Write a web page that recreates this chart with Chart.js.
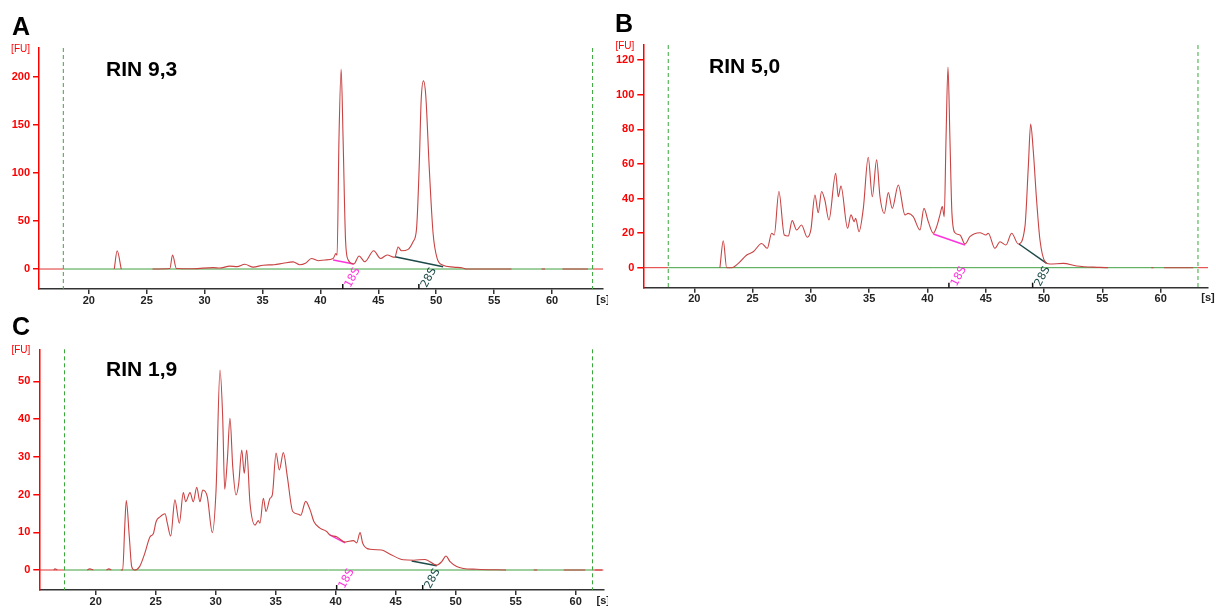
<!DOCTYPE html>
<html>
<head>
<meta charset="utf-8">
<script src="https://cdn.jsdelivr.net/npm/chart.js@4.4.0/dist/chart.umd.min.js"></script>
<style>
  body { margin: 0; background: #fff; width: 1216px; height: 610px; position: relative; overflow: hidden; }
  canvas { position: absolute; }
</style>
</head>
<body>
<canvas id="chartA" style="left:0px;top:0px;width:608px;height:306px" width="608" height="306"></canvas>
<canvas id="chartB" style="left:608px;top:0px;width:608px;height:306px" width="608" height="306"></canvas>
<canvas id="chartC" style="left:0px;top:306px;width:608px;height:304px" width="608" height="304"></canvas>
<script>
// ---- data (time in s, fluorescence in FU) ----
var timeA = [22.2,22.45,22.8,24,25.5,27.0,27.23,27.57,29.0,30.74,31.3,32.18,32.8,33.47,34.2,35.05,36.0,36.78,37.64,38.22,38.7,39.23,39.8,40.38,41.1,41.33,41.44,41.6,41.79,41.96,42.17,42.4,42.88,43.34,43.83,44.6,45.19,45.76,46.42,46.71,47.0,47.57,48.0,48.3,48.53,48.7,48.9,49.1,49.39,49.73,50.08,50.54,51.5,52.3,52.6,56.5,57,59.1,59.4,59.6,60.9,63.1];
var fuA   = [0,19,0,null,0,0.5,14.6,0.5,0.3,1.5,1,3,2.5,5,2,4,4.5,6,7.5,4.5,6,11,8.7,9.4,11,16,14.5,134,208,134,30,9.4,5.2,13.5,7.6,19,11,14.6,12.2,23,19,20.5,28.5,42,107,176,196,180,107,37,11,4.2,2,1,0,0,null,0,0,null,0,0];

var timeB = [22.2,22.49,22.78,23.2,23.78,24.5,25.06,25.78,26.26,26.64,26.86,27.26,27.72,28.06,28.4,28.78,29.2,29.69,30.0,30.35,30.63,30.92,31.2,31.55,32.13,32.35,32.58,33.15,33.44,33.72,33.84,34.13,34.5,34.92,35.27,35.64,35.93,36.3,36.64,36.98,37.5,38.07,38.35,38.78,39.36,39.7,40.07,40.5,40.79,41.07,41.27,41.44,41.59,41.76,41.93,42.1,42.36,42.79,43.22,43.64,44.5,45.02,45.21,45.79,46.22,46.73,47.22,47.79,48.36,48.65,48.85,49.07,49.36,49.65,50.08,50.5,51.65,52.8,54.8,55.5,56,59.2,59.4,59.6,60.3,62.8];
var fuB   = [0,15.6,0,0,2.5,7.3,9.2,14,11.2,19.9,18.9,44,18.9,18.3,27.2,21.8,24.7,17.6,21.8,42,31.8,44,39,27.6,54.6,41,47.2,22.8,30.5,26.6,28.6,20.8,34.3,63.8,41,62.3,41,31.4,43.4,34.3,47.8,30.5,31.4,29.5,21.8,34.3,26.6,19.9,23.7,30.5,35.3,29.5,73.8,116,73.8,31.4,20.2,18.9,13.7,17.9,20.2,18.9,19.9,11.2,15,13.1,19.9,13.7,23.7,58.4,83,68,39,16,3.5,2.1,2.5,1,0.2,0,null,0,0,null,0,0];

var timeC = [16.5,16.6,16.8,17.0,19.3,19.5,19.8,20,20.9,21.1,21.3,21.5,22.1,22.25,22.42,22.55,22.8,23.0,23.23,23.66,24.09,24.53,24.8,25.03,25.36,25.78,25.97,26.25,26.6,26.97,27.3,27.5,27.86,28.13,28.42,28.69,28.92,29.3,29.72,30.03,30.36,30.58,30.75,30.97,31.19,31.42,31.69,31.92,32.17,32.38,32.58,32.86,33.28,33.55,33.69,33.97,34.19,34.53,34.72,35.03,35.3,35.64,35.97,36.42,36.89,37.08,37.5,37.86,38.19,38.69,39.25,39.5,40.08,40.78,41.47,41.75,42.03,42.25,42.86,43.83,44.53,45.64,46.5,47.44,48.42,48.83,49.19,49.53,50.08,50.63,51.75,54.2,54.5,56.5,56.8,57,59,60.8,61,61.6,62.2];
var fuC   = [0,0.3,0,null,0,0.3,0,null,0,0.3,0,null,0,0,11.5,18.4,8.8,0.9,0,0.9,4.4,8.8,9.6,12.8,14.1,14.9,12.4,9,18.6,12.4,20.5,18.1,20.5,18.1,21.9,18.1,21.2,19.4,9.9,21.2,53,40.7,21.4,29.2,40.2,27.4,19.9,23,31.8,25.6,31.8,17.7,11.9,13.1,12.4,19,15.5,19,19.9,31,26.5,31.1,24.7,15.5,14.8,14.5,18.2,16,12.8,11.1,10.2,9.3,8.8,7.4,7.8,7.2,9.9,7.1,5.5,5.3,4.2,2.7,2.6,2.8,1.3,2.2,3.7,2.2,0.9,0.4,0.2,0,null,0,0,null,0,0,null,0,0];

// tick labels
var ticksX  = [20, 25, 30, 35, 40, 45, 50, 55, 60];
var ticksYA = [0, 50, 100, 150, 200];
var ticksYB = [0, 20, 40, 60, 80, 100, 120];
var ticksYC = [0, 10, 20, 30, 40, 50];

// peak-window baselines [x1, y1, x2, y2] and marker positions [18S, 28S]
var win18A = [41.1, 9.4, 42.88, 5.2],  win28A = [46.42, 12.8, 50.6, 2.4];
var win18B = [40.5, 19.5, 43.22, 13.1], win28B = [47.85, 13.7, 50.22, 2.5];
var win18C = [39.5, 9.3, 40.78, 7.2],  win28C = [46.33, 2.4, 48.42, 1.1];
var markA = [41.93, 48.5], markB = [41.84, 49.02], markC = [40.08, 47.25];
var dashA = [17.8, 63.5], dashB = [17.77, 63.2], dashC = [17.4, 61.4];
var rinLabels = ["RIN 9,3", "RIN 5,0", "RIN 1,9"];
var panelLetters = ["A", "B", "C"];

Chart.defaults.font.family = "'Liberation Sans', Arial, sans-serif";

function pts(xs, ys) {
  return xs.map(function (x, i) { return { x: x, y: ys[i] }; });
}
function seg(w) {
  return [{ x: w[0], y: w[1] }, { x: w[2], y: w[3] }];
}
function fixTicks(list) {
  return function (s) { s.ticks = list.map(function (v) { return { value: v }; }); };
}

var decor = {
  id: 'decor',
  beforeDatasetsDraw: function (chart, args, o) {
    var ctx = chart.ctx, a = chart.chartArea, xs = chart.scales.x, ys = chart.scales.y;
    var y0 = ys.getPixelForValue(0);
    var d1 = xs.getPixelForValue(o.dash[0]), d2 = xs.getPixelForValue(o.dash[1]);
    ctx.save();
    ctx.lineWidth = 1;
    ctx.strokeStyle = '#e03030';
    ctx.beginPath(); ctx.moveTo(a.left, y0); ctx.lineTo(d1, y0); ctx.moveTo(d2, y0); ctx.lineTo(a.right, y0); ctx.stroke();
    ctx.strokeStyle = '#3f9f3f';
    ctx.beginPath(); ctx.moveTo(d1, y0); ctx.lineTo(d2, y0); ctx.stroke();
    ctx.strokeStyle = '#3aa83a';
    ctx.setLineDash([4, 3]);
    ctx.beginPath();
    ctx.moveTo(d1, a.top); ctx.lineTo(d1, a.bottom);
    ctx.moveTo(d2, a.top); ctx.lineTo(d2, a.bottom);
    ctx.stroke();
    ctx.restore();
  },
  afterDraw: function (chart, args, o) {
    var ctx = chart.ctx, a = chart.chartArea, xs = chart.scales.x;
    ctx.save();
    // marker ticks and rotated labels
    var names = ['18S', '28S'], cols = ['#ff33dd', '#1d4a4a'];
    for (var i = 0; i < 2; i++) {
      var px = xs.getPixelForValue(o.mark[i]);
      ctx.strokeStyle = '#111'; ctx.lineWidth = 1.5;
      ctx.beginPath(); ctx.moveTo(px, a.bottom - 5); ctx.lineTo(px, a.bottom); ctx.stroke();
      ctx.save();
      ctx.translate(px + 5, a.bottom - 2);
      ctx.rotate(-62 * Math.PI / 180);
      ctx.fillStyle = cols[i];
      ctx.font = "11px 'DejaVu Sans', sans-serif";
      ctx.textAlign = 'left'; ctx.textBaseline = 'middle';
      ctx.fillText(names[i], 0, 0);
      ctx.restore();
    }
    // axis units
    ctx.fillStyle = '#ff0000';
    ctx.font = "10px 'Liberation Sans', Arial, sans-serif";
    ctx.textAlign = 'right'; ctx.textBaseline = 'middle';
    ctx.fillText('[FU]', a.left - 9, a.top + 1);
    ctx.fillStyle = '#222';
    ctx.font = "bold 11px 'Liberation Sans', Arial, sans-serif";
    ctx.textAlign = 'center'; ctx.textBaseline = 'top';
    ctx.fillText('[s]', a.right, a.bottom + 5);
    // panel letter and RIN
    ctx.fillStyle = '#000';
    ctx.textAlign = 'left'; ctx.textBaseline = 'alphabetic';
    ctx.font = "bold 25px 'Liberation Sans', Arial, sans-serif";
    ctx.fillText(o.letter, o.letterPos[0], o.letterPos[1]);
    ctx.font = "bold 21px 'Liberation Sans', Arial, sans-serif";
    ctx.fillText(o.rin, o.rinPos[0], o.rinPos[1]);
    ctx.restore();
  }
};

function makeChart(id, trace, w18, w28, yTicks, opt) {
  new Chart(document.getElementById(id), {
    type: 'line',
    data: {
      datasets: [
        { data: trace, borderColor: '#c94343', borderWidth: 1.1, pointRadius: 0, cubicInterpolationMode: 'monotone', spanGaps: false },
        { data: seg(w18), borderColor: '#ff33dd', borderWidth: 1.5, pointRadius: 0 },
        { data: seg(w28), borderColor: '#1d4a4a', borderWidth: 1.5, pointRadius: 0 }
      ]
    },
    options: {
      responsive: false,
      animation: false,
      events: [],
      layout: { padding: opt.padding },
      plugins: {
        legend: { display: false },
        tooltip: { enabled: false },
        decor: opt.decor
      },
      scales: {
        x: {
          type: 'linear', min: opt.xr[0], max: opt.xr[1],
          afterBuildTicks: fixTicks(ticksX),
          afterFit: function (s) { s.height = opt.xh; },
          border: { color: '#333', width: 1.5 },
          grid: { drawOnChartArea: false, color: '#333', tickLength: 5, lineWidth: 1.5 },
          ticks: { padding: 0, color: '#222', maxRotation: 0, autoSkip: false,
                   font: { size: 11, weight: 'bold' } }
        },
        y: {
          min: opt.yr[0], max: opt.yr[1],
          afterBuildTicks: fixTicks(yTicks),
          afterFit: function (s) { s.width = opt.yw; },
          border: { color: '#ff0000', width: 1.5 },
          grid: { drawOnChartArea: false, color: '#ff0000', tickLength: 6, lineWidth: 1.5 },
          ticks: { padding: 3, color: '#ff0000', autoSkip: false,
                   font: { size: 11, weight: 'bold' } }
        }
      }
    },
    plugins: [decor]
  });
}

makeChart('chartA', pts(timeA, fuA), win18A, win28A, ticksYA, {
  padding: { top: 48, right: 5, left: 0, bottom: 0 }, xh: 17, yw: 39,
  xr: [15.7, 64.4], yr: [-20.8, 230.2],
  decor: { dash: dashA, mark: markA, letter: panelLetters[0], rin: rinLabels[0], letterPos: [12, 35], rinPos: [106, 76] }
});
makeChart('chartB', pts(timeB, fuB), win18B, win28B, ticksYB, {
  padding: { top: 45, right: 8, left: 0, bottom: 0 }, xh: 18.3, yw: 35.3,
  xr: [15.63, 64.06], yr: [-11.56, 128.7],
  decor: { dash: dashB, mark: markB, letter: panelLetters[1], rin: rinLabels[1], letterPos: [7, 32], rinPos: [101, 73] }
});
makeChart('chartC', pts(timeC, fuC), win18C, win28C, ticksYC, {
  padding: { top: 43.3, right: 4.7, left: 0, bottom: 0 }, xh: 20, yw: 39.3,
  xr: [15.3, 62.3], yr: [-5.3, 58.5],
  decor: { dash: dashC, mark: markC, letter: panelLetters[2], rin: rinLabels[2], letterPos: [12, 29], rinPos: [106, 70] }
});
</script>
</body>
</html>
